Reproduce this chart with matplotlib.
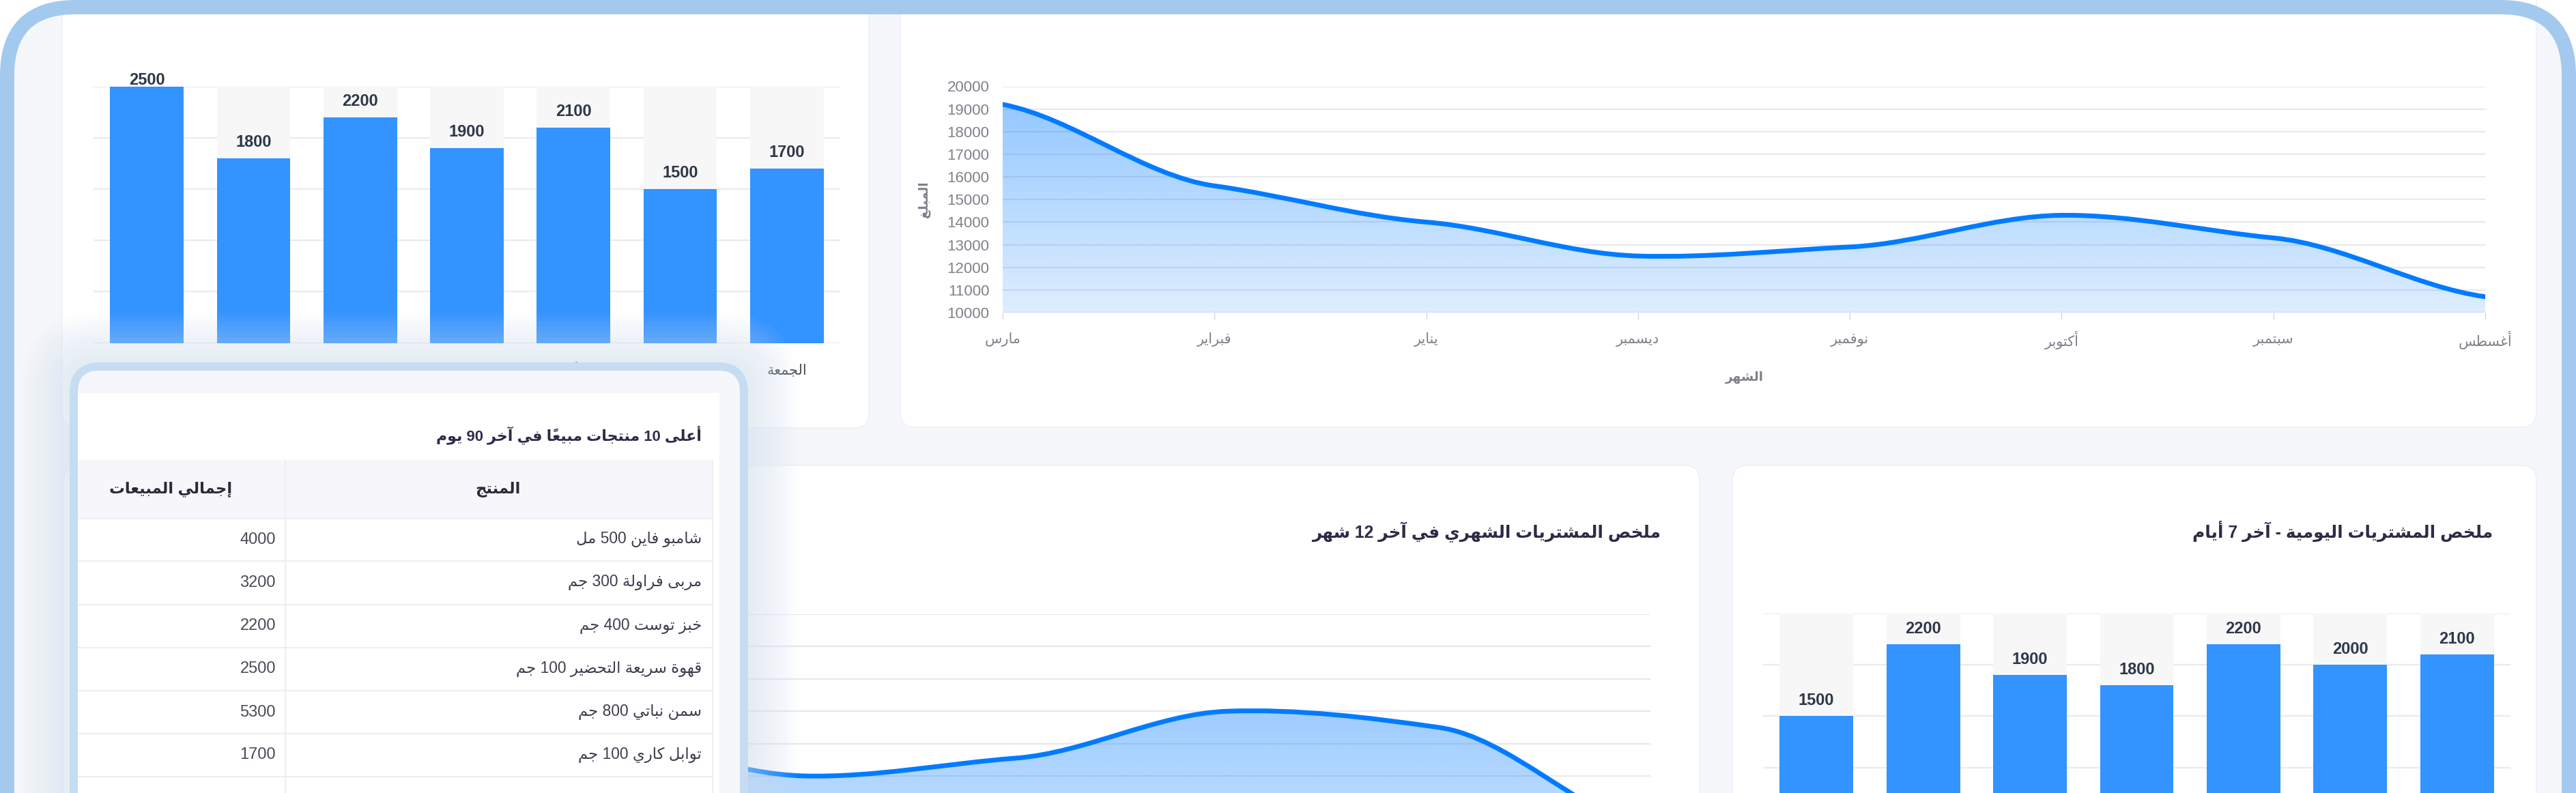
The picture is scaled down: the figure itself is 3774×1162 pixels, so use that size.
import numpy as np
import matplotlib
matplotlib.use('Agg')
import matplotlib.pyplot as plt
from matplotlib.patches import FancyBboxPatch, Rectangle, PathPatch
from matplotlib.path import Path

plt.rcParams['font.family'] = ['Liberation Sans', 'DejaVu Sans']

W, H = 3774, 1162

# data, left -> right as drawn on the dashboard
week_days = ['الخميس', 'الأربعاء', 'الثلاثاء', 'الاثنين', 'الأحد', 'السبت', 'الجمعة']
week_sales = [2500, 1800, 2200, 1900, 2100, 1500, 1700]

months = ['مارس', 'فبراير', 'يناير', 'ديسمبر', 'نوفمبر', 'أكتوبر', 'سبتمبر', 'أغسطس']
monthly_sales = [19200, 15600, 14000, 12500, 12900, 14300, 13300, 10700]

monthly_purchases = [18000, 17000, 16200, 15000, 15550, 17000, 16500, 13300]
daily_purchases = [1500, 2200, 1900, 1800, 2200, 2000, 2100]

top_products = ['شامبو فاين 500 مل', 'مربى فراولة 300 جم', 'خبز توست 400 جم',
                'قهوة سريعة التحضير 100 جم', 'سمن نباتي 800 جم', 'توابل كاري 100 جم']
top_totals = [4000, 3200, 2200, 2500, 5300, 1700]

title_table = 'أعلى 10 منتجات مبيعاً في آخر 90 يوم'
title_monthly = 'ملخص المشتريات الشهري في آخر 12 شهر'
title_daily = 'ملخص المشتريات اليومية - آخر 7 أيام'

# --- tiny arabic shaper: presentation forms + visual (rtl) order ---
_letters = 'ءآأؤإئابةتثجحخدذرزسشصضطظعغفقكلمنهوىي'
_starts = [0xFE80, 0xFE81, 0xFE83, 0xFE85, 0xFE87, 0xFE89, 0xFE8D, 0xFE8F, 0xFE93,
           0xFE95, 0xFE99, 0xFE9D, 0xFEA1, 0xFEA5, 0xFEA9, 0xFEAB, 0xFEAD, 0xFEAF,
           0xFEB1, 0xFEB5, 0xFEB9, 0xFEBD, 0xFEC1, 0xFEC5, 0xFEC9, 0xFECD, 0xFED1,
           0xFED5, 0xFED9, 0xFEDD, 0xFEE1, 0xFEE5, 0xFEE9, 0xFEED, 0xFEEF, 0xFEF1]
FORMS = {c: (s, (_starts[i + 1] - s) if i + 1 < len(_starts) else 4)
         for i, (c, s) in enumerate(zip(_letters, _starts))}
LAMALEF = {'آ': 0xFEF5, 'أ': 0xFEF7, 'إ': 0xFEF9, 'ا': 0xFEFB}


def is_mark(c):
    return '\u064b' <= c <= '\u0652' or c == '\u0670'


def ar(text):
    cl = []
    for c in text:
        if cl and is_mark(c):
            cl[-1][1] += c
        else:
            cl.append([c, ''])
    res = []
    i = 0
    while i < len(cl):
        c, marks = cl[i]
        prev = cl[i - 1][0] if i > 0 else ''
        nxt = cl[i + 1][0] if i + 1 < len(cl) else ''
        jp = prev in FORMS and FORMS[prev][1] == 4 and c in FORMS and FORMS[c][1] > 1
        if c == 'ل' and nxt in LAMALEF:
            res.append((chr(LAMALEF[nxt] + (1 if jp else 0)), marks + cl[i + 1][1]))
            i += 2
            continue
        if c in FORMS:
            start, nf = FORMS[c]
            jn = nf == 4 and nxt in FORMS and FORMS[nxt][1] > 1
            if nf == 1:
                form = 0
            elif jn:
                form = 3 if jp else 2
            else:
                form = 1 if jp else 0
            c = chr(start + form)
        res.append((c, marks))
        i += 1
    tokens = []
    for c, marks in res:
        if c.isdigit() and tokens and tokens[-1][0] == 'd':
            tokens[-1][1] += c
        else:
            tokens.append(['d' if c.isdigit() else 'c', c + marks])
    return ''.join(t[1] for t in reversed(tokens))


fig = plt.figure(figsize=(W / 100, H / 100), dpi=100, facecolor='white')
renderer = fig.canvas.get_renderer()


def fit(t, width):
    w = t.get_window_extent(renderer).width
    t.set_fontsize(t.get_fontsize() * width / w)
    return t.get_fontsize()


def px_axes(x0, y0, x1, y1, z):
    ax = fig.add_axes([x0 / W, 1 - y1 / H, (x1 - x0) / W, (y1 - y0) / H], zorder=z)
    ax.set_facecolor('none')
    for s in ax.spines.values():
        s.set_visible(False)
    return ax


def rbox(ax, x0, y0, x1, y1, r, **kw):
    p = FancyBboxPatch((x0, y0), x1 - x0, y1 - y0,
                       boxstyle='round,pad=0,rounding_size=%s' % r, **kw)
    ax.add_patch(p)
    return p


# background + cards
bg = px_axes(0, 0, W, H, 0)
bg.set_xlim(0, W)
bg.set_ylim(H, 0)
bg.axis('off')
rbox(bg, 10.5, 10.5, W - 10.5, H + 300, 100, fc='#f5f7fa', ec='none')
for x0, y0, x1, y1 in [(91, -30, 1273, 627), (1319, -30, 3716, 626),
                       (93, 682, 2490, 1400), (2538, 682, 3716, 1400)]:
    rbox(bg, x0, y0, x1, y1, 22, fc='white', ec='#eceff3', lw=1)

BLUE = '#007bff'
BAR = '#3393ff'


def bar_chart(ax, values, labels=None):
    x = np.arange(len(values))
    ax.set_xlim(-0.5, len(values) - 0.5)
    ax.set_ylim(0, 2500)
    ax.set_yticks(np.arange(0, 2501, 500))
    ax.yaxis.grid(True, color='#ebebee', lw=1.6)
    ax.set_axisbelow(True)
    ax.tick_params(length=0, labelleft=False, labelbottom=False)
    ax.bar(x, np.full(len(x), 2500), width=0.69, color='#f7f7f8', zorder=1)
    ax.bar(x, values, width=0.69, color=BAR, zorder=2)
    for xi, v in zip(x, values):
        off = 9 if v >= 2500 else 23
        ax.annotate(str(v), (xi, v), xytext=(0, off), textcoords='offset pixels',
                    ha='center', va='center', fontsize=17, fontweight='bold',
                    color='#2d3748', annotation_clip=False)
    out = []
    if labels:
        for xi, lab in zip(x, labels):
            out.append(ax.annotate(ar(lab), (xi, 0), xytext=(0, -41), textcoords='offset pixels',
                                   ha='center', va='center', fontsize=12, color='#4a4a55',
                                   annotation_clip=False))
    return out


def smooth(xs, ys):
    # cubic segments, tangents at half the catmull-rom slope
    ys = np.asarray(ys, float)
    m = np.zeros(len(xs))
    m[1:-1] = 0.25 * (ys[2:] - ys[:-2])
    m[0] = 0.5 * (ys[1] - ys[0])
    m[-1] = 0.5 * (ys[-1] - ys[-2])
    verts = [(xs[0], ys[0])]
    codes = [Path.MOVETO]
    for i in range(len(xs) - 1):
        verts += [(xs[i] + 1 / 3, ys[i] + m[i] / 3), (xs[i + 1] - 1 / 3, ys[i + 1] - m[i + 1] / 3),
                  (xs[i + 1], ys[i + 1])]
        codes += [Path.CURVE4] * 3
    return verts, codes


def area_chart(ax, values, ymin=10000, ymax=20000):
    xs = np.arange(len(values))
    verts, codes = smooth(xs, values)
    fill = Path(verts + [(xs[-1], ymin), (xs[0], ymin), (xs[0], values[0])],
                codes + [Path.LINETO, Path.LINETO, Path.CLOSEPOLY])
    clip = PathPatch(fill, fc='none', ec='none')
    ax.add_patch(clip)
    grad = np.zeros((256, 1, 4))
    grad[..., 0], grad[..., 1], grad[..., 2] = 0, 123 / 255, 1
    grad[:, 0, 3] = np.linspace(0.13, 0.42, 256)
    im = ax.imshow(grad, extent=(xs[0], xs[-1], ymin, max(values)), origin='lower',
                   aspect='auto', zorder=1, interpolation='bilinear')
    im.set_clip_path(clip)
    ax.add_patch(PathPatch(Path(verts, codes), fc='none', ec=BLUE, lw=5, zorder=3,
                           capstyle='round', joinstyle='round'))
    ax.set_xlim(xs[0], xs[-1])
    ax.set_ylim(ymin, ymax)
    yt = np.arange(ymin, ymax + 1, 1000)
    ax.set_yticks(yt)
    ax.set_yticklabels([str(v) for v in yt])
    ax.yaxis.grid(True, color='#e9e9ed', lw=1.6)
    ax.set_axisbelow(True)
    ax.set_xticks(xs)
    ax.tick_params(axis='x', length=7, width=1, color='#d3d9e0', labelbottom=False)
    ax.tick_params(axis='y', length=0, pad=14, labelsize=16, labelcolor='#80808a')
    return xs


# top-left: weekly bars
ax1 = px_axes(137, 126.5, 1231, 502.5, 2)
day_labels = bar_chart(ax1, week_sales, week_days)

# top-right: monthly area
ax2 = px_axes(1469, 126.5, 3641, 458, 2)
xs = area_chart(ax2, monthly_sales)
mlabels = []
for xi, lab in zip(xs, months):
    mlabels.append(ax2.annotate(ar(lab), (xi, 10000), xytext=(0, -40), textcoords='offset pixels',
                                ha='center', va='center', fontsize=12, color='#80808a',
                                annotation_clip=False))
msize = fit(mlabels[6], 60)
for t in mlabels + day_labels:
    t.set_fontsize(msize)
yl = bg.text(1354, 292, ar('المبلغ'), rotation=90, ha='center', va='center',
             fontsize=12, fontweight='bold', color='#80808a')
xl = bg.text(2556, 553, ar('الشهر'), ha='center', va='center',
             fontsize=12, fontweight='bold', color='#80808a')
fit(xl, 56)
yl.set_fontsize(xl.get_fontsize())

# bottom-middle: monthly purchases area (mostly under the table card)
ax3 = px_axes(248, 900, 2418, 1374, 2)
area_chart(ax3, monthly_purchases)
ax3.tick_params(labelleft=False, length=0)
t3 = bg.text(2433, 780, ar(title_monthly), ha='right', va='center', fontsize=16,
             fontweight='bold', color='#2e2b48')
fit(t3, 510)

# bottom-right: daily purchases bars
ax4 = px_axes(2583, 899, 3678, 1275, 2)
bar_chart(ax4, daily_purchases)
t4 = bg.text(3652, 778, ar(title_daily), ha='right', va='center', fontsize=16,
             fontweight='bold', color='#2e2b48')
t4.set_fontsize(t3.get_fontsize())

# overlay: top-products table card with its glow, and the outer frame
ov = px_axes(0, 0, W, H, 10)
ov.set_xlim(0, W)
ov.set_ylim(H, 0)
ov.axis('off')
for k in range(12, 0, -1):
    g = 6 * k
    rbox(ov, 102 - g, 531 - g, 1096 + g, H + 300, 40 + g, fc='#d0e1f4', ec='none', alpha=0.05)
rbox(ov, 108, 537, 1090, H + 300, 38, fc='#f5f7fa', ec='none')
ov.add_patch(Rectangle((114, 576), 1054 - 114, H, fc='white', ec='none'))
ov.add_patch(Rectangle((114, 673.5), 1044 - 114, 86, fc='#f7f7fb', ec='none'))
row_lines = [759.5, 822, 885.5, 949, 1012, 1075, 1138]
ov.hlines(row_lines, 114, 1044, color='#eeeef2', lw=1.5)
ov.vlines([418, 1044], 673.5, H, color='#eeeef2', lw=1.5)
tt = ov.text(1028, 637, ar(title_table), ha='right', va='center', fontsize=16,
             fontweight='bold', color='#2e2b48')
fit(tt, 390)
h1 = ov.text(729, 717, ar('المنتج'), ha='center', va='center', fontsize=14,
             fontweight='bold', color='#2a2a3a')
h2 = ov.text(250, 717, ar('إجمالي المبيعات'), ha='center', va='center', fontsize=14,
             fontweight='bold', color='#2a2a3a')
rows = []
for i, (name, tot) in enumerate(zip(top_products, top_totals)):
    yc = (row_lines[i] + row_lines[i + 1]) / 2
    rows.append(ov.text(1028, yc, ar(name), ha='right', va='center', fontsize=14, color='#3d3d4e'))
    ov.text(404, yc, str(tot), ha='right', va='center', fontsize=17, color='#4a4a58')
rsize = fit(rows[0], 185)
for t in rows + [h1, h2]:
    t.set_fontsize(rsize)
rbox(ov, 108, 537, 1090, H + 300, 38, fc='none', ec='#c6dcf2', lw=8.6)
rbox(ov, 10.5, 10.5, W - 10.5, H + 300, 100, fc='none', ec='#a3c9ee', lw=15.1)

fig.savefig('out.png', dpi=100, facecolor='white')
